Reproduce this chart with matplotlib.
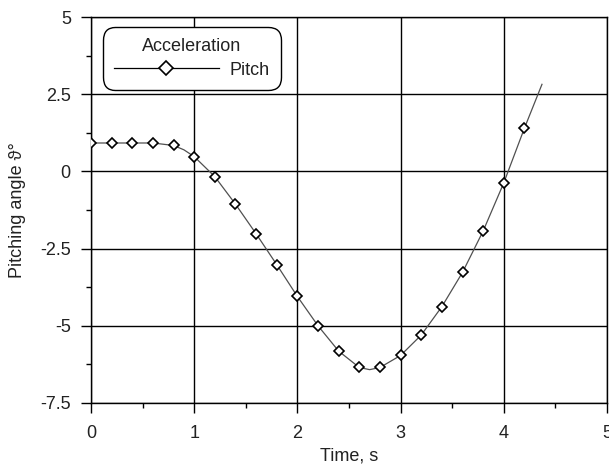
import matplotlib
matplotlib.use('Agg')
import matplotlib.pyplot as plt
from matplotlib.ticker import MultipleLocator

plt.rcParams['font.family'] = ['Liberation Sans', 'DejaVu Sans']

# sampled pitch values (markers)
t_marks = [0.0, 0.2, 0.4, 0.6, 0.8, 1.0, 1.2, 1.4, 1.6, 1.8, 2.0, 2.2,
           2.4, 2.6, 2.8, 3.0, 3.2, 3.4, 3.6, 3.8, 4.0, 4.2]
pitch_marks = [0.92, 0.92, 0.92, 0.92, 0.84, 0.48, -0.17, -1.06, -2.02,
               -3.02, -4.05, -5.0, -5.82, -6.35, -6.35, -5.96, -5.30,
               -4.38, -3.27, -1.93, -0.37, 1.40]

# continuous trace, runs a bit past the last sample
t_line = [0.0, 0.6, 0.8, 0.9, 1.0, 1.2, 1.4, 1.6, 1.8, 2.0, 2.2, 2.4,
          2.6, 2.7, 2.8, 3.0, 3.2, 3.4, 3.6, 3.8, 4.0, 4.2, 4.37]
pitch_line = [0.92, 0.92, 0.84, 0.70, 0.48, -0.17, -1.06, -2.02, -3.02,
              -4.05, -5.0, -5.82, -6.35, -6.42, -6.35, -5.96, -5.30,
              -4.38, -3.27, -1.93, -0.37, 1.40, 2.82]

y_ticks = [5, 2.5, 0, -2.5, -5, -7.5]
y_labels = ['5', '2.5', '0', '-2.5', '-5', '-7.5']

fs = 13
txt = '#222222'

fig = plt.figure(figsize=(6.09, 4.66), dpi=100)
ax = fig.add_axes([0.1494, 0.1352, 0.8473, 0.8283])

ax.plot(t_line, pitch_line, color='#505050', lw=0.9, zorder=3)
ax.plot(t_marks, pitch_marks, ls='none', marker='D', ms=5.5,
        mfc='white', mec='black', mew=1.2, zorder=4)
# legend proxy
ax.plot([], [], color='black', lw=0.9, marker='D', ms=7.5,
        mfc='white', mec='black', mew=1.2, label='Pitch')

ax.set_xlim(0, 5)
ax.set_ylim(-7.5, 5)
ax.set_yticks(y_ticks)
ax.set_yticklabels(y_labels)
ax.xaxis.set_minor_locator(MultipleLocator(0.5))
ax.yaxis.set_minor_locator(MultipleLocator(1.25))
ax.tick_params(which='major', direction='out', length=7.5, width=1,
               labelsize=fs, colors='black', labelcolor=txt)
ax.tick_params(which='minor', direction='out', length=3.6, width=1)
ax.tick_params(axis='y', pad=7)
ax.tick_params(axis='x', pad=8.5)
ax.grid(True, which='major', color='black', lw=1)
for sp in ax.spines.values():
    sp.set_color('black')
    sp.set_linewidth(1)

ax.set_xlabel('Time, s', fontsize=fs, labelpad=4, color=txt)
ax.set_ylabel('Pitching angle ϑ°', fontsize=fs, labelpad=10, color=txt)

leg = ax.legend(title='Acceleration', loc='upper left',
                bbox_to_anchor=(0.023, 0.974), fontsize=fs,
                title_fontsize=fs, handlelength=5.8, markerfirst=True,
                fancybox=True, framealpha=1, edgecolor='black',
                borderpad=0.62, borderaxespad=0, handletextpad=0.6,
                labelspacing=0.35)
leg.get_frame().set_linewidth(1)
leg.get_frame().set_boxstyle('round', pad=0.0, rounding_size=0.7)
leg.get_title().set_color(txt)
for t in leg.get_texts():
    t.set_color(txt)

fig.savefig('out.png', dpi=100)
